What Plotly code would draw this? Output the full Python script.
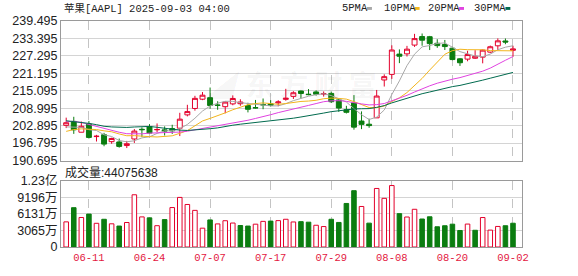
import plotly.graph_objects as go
import numpy as np

# ---------------- data ----------------
dates = ["06-06", "06-09", "06-10", "06-11", "06-12", "06-13", "06-16", "06-17", "06-18", "06-20",
         "06-23", "06-24", "06-25", "06-26", "06-27", "06-30", "07-01", "07-02", "07-03", "07-07",
         "07-08", "07-09", "07-10", "07-11", "07-14", "07-15", "07-16", "07-17", "07-18", "07-21",
         "07-22", "07-23", "07-24", "07-25", "07-28", "07-29", "07-30", "07-31", "08-01", "08-04",
         "08-05", "08-06", "08-07", "08-08", "08-11", "08-12", "08-13", "08-14", "08-15", "08-18",
         "08-19", "08-20", "08-21", "08-22", "08-25", "08-26", "08-27", "08-28", "08-29", "09-02"]

opens = [203.00, 204.39, 200.60, 203.50, 199.08, 199.73, 197.30, 197.20, 195.94, 198.24,
         201.63, 202.59, 201.45, 201.43, 201.89, 202.01, 206.67, 208.91, 212.15, 212.68,
         210.10, 209.53, 210.51, 210.57, 209.93, 209.22, 210.30, 210.57, 210.87, 212.10,
         213.14, 215.00, 213.90, 214.70, 214.03, 214.18, 211.90, 208.49, 210.87, 204.51,
         203.40, 205.63, 218.88, 220.83, 227.92, 228.01, 231.07, 234.06, 234.00, 231.70,
         231.28, 229.98, 226.27, 226.17, 226.48, 226.87, 228.61, 230.82, 232.51, 229.25]

highs = [205.70, 206.00, 204.35, 204.50, 199.68, 200.37, 198.69, 198.39, 197.57, 201.70,
         202.30, 203.44, 203.67, 202.64, 203.22, 207.39, 210.19, 213.34, 214.65, 216.23,
         211.43, 211.33, 213.48, 212.13, 210.91, 211.89, 212.40, 211.80, 211.79, 215.78,
         214.95, 215.15, 215.69, 215.24, 214.85, 214.81, 212.39, 209.84, 213.58, 207.88,
         205.34, 215.38, 220.85, 231.00, 229.56, 230.80, 235.00, 235.12, 234.28, 233.12,
         232.87, 230.47, 226.52, 229.09, 229.30, 229.49, 230.90, 233.41, 233.38, 230.85]

lows = [202.05, 200.02, 200.57, 198.41, 197.36, 195.70, 196.56, 195.21, 195.07, 196.86,
        198.96, 200.20, 200.62, 199.46, 200.00, 199.26, 206.14, 208.14, 211.81, 208.80,
        208.45, 207.22, 210.03, 209.86, 207.54, 208.92, 208.64, 209.59, 209.70, 211.63,
        212.23, 212.41, 213.53, 213.40, 213.06, 210.82, 207.72, 207.16, 201.50, 201.68,
        202.16, 205.59, 216.58, 219.25, 224.76, 227.07, 230.43, 230.85, 229.34, 230.11,
        229.35, 225.77, 223.78, 225.41, 226.23, 224.69, 228.26, 229.34, 231.37, 226.97]

closes = [203.92, 201.45, 202.67, 198.78, 199.20, 196.45, 198.42, 195.64, 196.58, 201.00,
          201.50, 200.30, 201.56, 201.00, 201.08, 205.17, 207.82, 212.44, 213.55, 209.95,
          210.01, 211.14, 212.41, 211.16, 208.62, 209.11, 210.16, 210.02, 211.18, 212.48,
          214.40, 214.15, 213.76, 213.88, 214.05, 211.27, 209.05, 207.57, 202.38, 203.35,
          202.92, 213.25, 220.03, 229.35, 227.18, 229.65, 233.33, 232.78, 231.59, 230.89,
          230.56, 226.01, 224.90, 227.76, 227.16, 229.31, 230.49, 232.56, 232.14, 229.72]

# volume in millions of shares
volumes_m = [46.6, 72.9, 54.7, 60.99, 43.9, 51.4, 43.0, 38.8, 45.4, 96.8,
             55.8, 54.0, 39.5, 50.8, 73.1, 91.9, 78.8, 67.9, 34.9, 50.2,
             42.8, 48.7, 44.4, 39.8, 38.8, 42.3, 47.5, 48.0, 48.9, 51.4,
             46.4, 47.0, 46.0, 40.3, 37.9, 51.4, 45.5, 80.7, 104.4, 75.1,
             44.2, 108.5, 90.2, 113.9, 61.8, 55.6, 69.9, 51.9, 56.0, 37.5,
             39.4, 42.3, 30.6, 42.5, 31.0, 54.6, 31.3, 38.1, 39.4, 44.075638]

# closes of the 29 sessions before the first visible bar (for the moving averages)
prior_closes = [209.28, 210.14, 211.21, 212.50, 213.32, 205.35, 198.89, 198.51, 196.25, 197.49,
                198.53, 210.79, 212.93, 212.33, 211.45, 211.26, 208.78, 206.86, 202.09, 201.36,
                195.27, 200.21, 200.42, 199.95, 200.85, 201.70, 203.27, 202.82, 200.63]

price_ticks = [190.695, 196.795, 202.895, 208.995, 215.095, 221.195, 227.295, 233.395, 239.495]
vol_ticks = [0, 30.655, 61.31, 91.965, 122.62]
vol_tick_text = ["0", "3065万", "6131万", "9196万", "1.23亿"]
label_idx = [3, 11, 19, 27, 35, 43, 51, 59]

ma_periods = [5, 10, 20, 30]
ma_names = ["5PMA", "10PMA", "20PMA", "30PMA"]
ma_colors = ["#a8a8a8", "#f2b51d", "#e043e0", "#006a4e"]

title_text = "苹果[AAPL] 2025-09-03 04:00"
vol_label = "成交量:44075638"

# ---------------- figure ----------------
RED = "#e3002b"
GREEN = "#0b7d10"
x = list(range(len(dates)))
all_closes = np.array(prior_closes + closes)
n_prior = len(prior_closes)

fig = go.Figure()

fig.add_trace(go.Candlestick(
    x=x, open=opens, high=highs, low=lows, close=closes,
    increasing=dict(line=dict(color=RED, width=1), fillcolor="white"),
    decreasing=dict(line=dict(color=GREEN, width=1), fillcolor=GREEN),
    xaxis="x", yaxis="y", showlegend=False, hoverinfo="skip"))

for p, name, col in zip(ma_periods, ma_names, ma_colors):
    ma = [all_closes[n_prior + i - p + 1: n_prior + i + 1].mean() for i in x]
    fig.add_trace(go.Scatter(x=x, y=ma, mode="lines", name=name,
                             line=dict(color=col, width=1), xaxis="x", yaxis="y",
                             showlegend=False, hoverinfo="skip"))

prev = [prior_closes[-1]] + closes[:-1]
up = [c >= pc for c, pc in zip(closes, prev)]
fig.add_trace(go.Bar(
    x=x, y=volumes_m, width=0.6,
    marker=dict(color=["white" if u else GREEN for u in up],
                line=dict(color=[RED if u else GREEN for u in up], width=1)),
    xaxis="x2", yaxis="y2", showlegend=False, hoverinfo="skip"))

L, R, T, B = 55, 55.7, 21, 21
W, H = 578, 276
ph = H - T - B
pw = W - L - R
price_bottom = (H - B - 165.5) / ph
vol_top = (H - B - 186.5) / ph

xr = [-0.686, 60.19]
axis_common = dict(showline=True, mirror=True, linecolor="#9a9a9a", linewidth=1,
                   zeroline=False, fixedrange=True)
tick_font = dict(family="Liberation Sans, Arial, sans-serif", size=12.5, color="#222")
date_font = dict(family="Liberation Mono, Noto Sans CJK SC, monospace", size=10.5, color="#e3173e")

fig.update_layout(
    width=W, height=H,
    margin=dict(l=L, r=R, t=T, b=B, pad=0),
    paper_bgcolor="white", plot_bgcolor="white",
    boxgap=0.35, boxgroupgap=0, bargap=0.4,
    xaxis=dict(domain=[0, 1], range=xr, anchor="y", tickvals=[x[i] for i in label_idx],
               showticklabels=False, showgrid=True, gridcolor="#c4c4c4", griddash="dash",
               gridwidth=1, ticks="", rangeslider=dict(visible=False), **axis_common),
    yaxis=dict(domain=[price_bottom, 1], range=[price_ticks[0], price_ticks[-1]], anchor="x",
               tickvals=price_ticks, ticktext=["%.3f" % v for v in price_ticks],
               showgrid=True, gridcolor="#d4d4d4", gridwidth=1, ticks="",
               tickfont=tick_font, **axis_common),
    xaxis2=dict(domain=[0, 1], range=xr, anchor="y2", tickvals=[x[i] for i in label_idx],
                ticktext=[dates[i] for i in label_idx], tickfont=date_font,
                showgrid=True, gridcolor="#c4c4c4", griddash="dash", gridwidth=1,
                ticks="", **axis_common),
    yaxis2=dict(domain=[0, vol_top], range=[vol_ticks[0], vol_ticks[-1]], anchor="x2",
                tickvals=vol_ticks, ticktext=vol_tick_text,
                showgrid=True, gridcolor="#d4d4d4", gridwidth=1, ticks="",
                tickfont=dict(family="Liberation Sans, Noto Sans CJK SC, sans-serif",
                              size=12.5, color="#222"),
                **axis_common),
)

def px_x(px):
    return (px - L) / pw

def px_y(py):
    return (H - B - py) / ph

annotations = [
    dict(text=title_text, x=px_x(56), y=px_y(8), xref="paper", yref="paper",
         xanchor="left", yanchor="middle", showarrow=False,
         font=dict(family="Liberation Mono, Noto Sans CJK SC, monospace", size=10.5, color="#222")),
    dict(text=vol_label, x=px_x(57), y=px_y(177.5), xref="paper", yref="paper",
         xanchor="left", yanchor="middle", showarrow=False,
         font=dict(family="Liberation Sans, Noto Sans CJK SC, sans-serif", size=12, color="#222")),
    dict(text="<b><i>◢</i>  东 方 财 富</b>", x=px_x(288), y=px_y(86), xref="paper", yref="paper",
         xanchor="center", yanchor="middle", showarrow=False,
         font=dict(family="Noto Sans CJK SC", size=28, color="rgba(0,0,0,0.055)")),
]

legend_x = [338, 380, 425, 472]
shapes = []
for lx, name, col in zip(legend_x, ma_names, ma_colors):
    annotations.append(dict(text=name, x=px_x(lx), y=px_y(8), xref="paper", yref="paper",
                            xanchor="left", yanchor="middle", showarrow=False,
                            font=dict(family="Liberation Mono, monospace", size=10.5, color="#222")))
    sx = lx + len(name) * 6.3 + 2
    shapes.append(dict(type="rect", xref="paper", yref="paper",
                       x0=px_x(sx), x1=px_x(sx + 5), y0=px_y(9.5), y1=px_y(6.5),
                       fillcolor=col, line=dict(width=0)))

fig.update_layout(annotations=annotations, shapes=shapes)

fig.write_html("out.html")
